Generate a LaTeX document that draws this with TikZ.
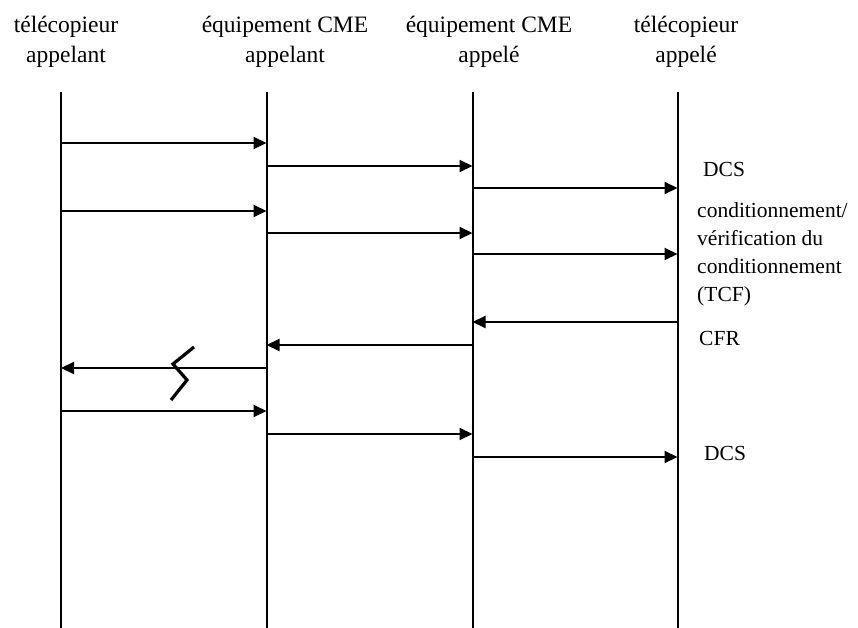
\documentclass[tikz,border=0pt]{standalone}
\usepackage{fontspec}
\setmainfont{Liberation Serif}
\usetikzlibrary{arrows.meta}

\begin{document}
\begin{tikzpicture}[x=1pt,y=-1pt,
    life/.style={line width=2pt},
    msg/.style={line width=2pt,-{Triangle[length=13pt,width=12pt]}},
    head/.style={align=center,anchor=base,inner sep=0pt,font=\fontsize{23.5}{30}\selectfont},
    lbl/.style={align=left,anchor=base west,inner sep=0pt,font=\fontsize{21.5}{27.7}\selectfont}]
             \useasboundingbox (0,0) rectangle (858,628);
             \node[head] (fax1) at (66,63) {télécopieur\\appelant};
             \node[head] (cme1) at (285,63) {équipement CME\\appelant};
             \node[head] (cme2) at (489,63) {équipement CME\\appelé};
             \node[head] (fax2) at (686,63) {télécopieur\\appelé};
             \foreach \i/\x in {1/61,2/266.5,3/472.5,4/677.5} {
               \coordinate (t\i) at (\x,92);
               \coordinate (b\i) at (\x,628);
               \draw[life] (t\i) -- (b\i);
             }
             \foreach \a/\b/\y in {1/2/143,2/3/166,3/4/188,1/2/211,2/3/233,3/4/254,
                                   4/3/322,3/2/345,2/1/368,1/2/411,2/3/434,3/4/457}
               \draw[msg] (t\a |- 0,\y) -- (t\b |- 0,\y);
             % coupure
             \draw[line width=3.2pt] (194,347) -- (173,364) -- (187,380) -- (171,400);
             \node[lbl] (dcs1) at (703,177) {DCS};
             \node[lbl] (tcf) at (697,301) {conditionnement/\\vérification du\\conditionnement\\(TCF)};
             \node[lbl] (cfr) at (699,345) {CFR};
             \node[lbl] (dcs2) at (704,460) {DCS};
            \end{tikzpicture}
\end{document}
